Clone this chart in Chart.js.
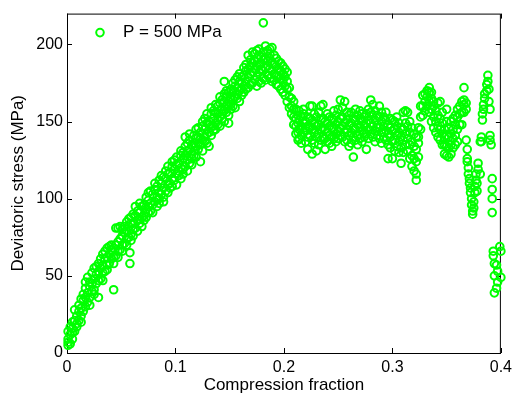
<!DOCTYPE html>
<html>
<head>
<meta charset="utf-8">
<script src="https://cdn.jsdelivr.net/npm/chart.js@4.4.1/dist/chart.umd.min.js"></script>
<style>
  html, body { margin: 0; padding: 0; background: #fff; }
</style>
</head>
<body>
<canvas id="stressChart" width="517" height="396"></canvas>
<script>
// Deviatoric stress vs compression fraction, P = 500 MPa
// values; each fraction has a few stress samples

const riseFraction = [
  0.001, 0.003, 0.005, 0.007, 0.009, 0.011, 0.013, 0.015, 0.017, 0.019,
  0.021, 0.023, 0.025, 0.027, 0.029, 0.031, 0.033, 0.035, 0.037, 0.039,
  0.041, 0.043, 0.045, 0.047, 0.049, 0.051, 0.053, 0.055, 0.057, 0.058, 0.059,
  0.061, 0.063, 0.065, 0.067, 0.069, 0.071, 0.073, 0.075, 0.077, 0.079,
  0.081, 0.083, 0.085, 0.087, 0.089, 0.091, 0.093, 0.095, 0.097, 0.099,
  0.101, 0.103, 0.105, 0.107, 0.109, 0.111, 0.113, 0.115, 0.117, 0.119,
  0.121, 0.123, 0.125, 0.127, 0.129, 0.131, 0.133, 0.135, 0.137, 0.139,
  0.141, 0.143, 0.145, 0.147, 0.149, 0.151, 0.153, 0.155, 0.157, 0.159,
  0.161, 0.163, 0.165
];
const riseStress = [
  [5, 9, 14, 7], [6, 12, 17], [9, 16, 20, 13], [14, 21, 28], [17, 24, 19], [21, 27, 31], [24, 29, 35, 20], [27, 34, 38], [30, 36, 42, 46], [33, 39, 49],
  [36, 43, 46, 31], [40, 45, 52], [41, 48, 55, 38], [45, 51, 56], [47, 53, 36, 58], [48, 55, 61], [52, 57, 64, 47], [53, 61, 66], [57, 62, 68, 54], [58, 64, 69],
  [61, 67, 70], [41, 62, 68, 58], [63, 70, 81], [66, 72, 81, 62], [67, 74, 82], [70, 76, 80, 66], [71, 78, 82], [74, 79, 85, 70], [75, 82, 87], [58, 65], [77, 84, 88, 73],
  [76, 84, 90, 80], [81, 89, 95], [79, 86, 92], [84, 91, 87, 97], [82, 88, 95], [89, 96, 86], [88, 93, 101], [91, 99, 104, 95], [92, 97, 105], [96, 103, 91],
  [98, 106, 110], [95, 101, 108], [100, 104, 112, 97], [103, 110, 115], [101, 107, 114, 98], [105, 113, 118], [104, 109, 116, 121], [110, 117, 107], [108, 113, 121, 124], [112, 119, 125],
  [109, 116, 122, 127], [115, 123, 118], [113, 120, 128, 131], [119, 126, 130, 116], [121, 128, 134, 140], [118, 125, 131, 136], [123, 132, 138, 142], [126, 129, 135, 122], [128, 136, 141, 131], [127, 134, 139, 145],
  [132, 140, 146, 136], [124, 135, 143, 139], [131, 138, 147, 150], [137, 145, 140, 152], [136, 142, 149, 155], [134, 143, 150, 148], [141, 147, 155, 159], [144, 152, 157, 147], [145, 149, 156, 161], [148, 155, 160, 151],
  [147, 153, 162, 166], [152, 158, 164, 155], [150, 157, 163, 176, 168], [156, 160, 166, 170], [149, 154, 163, 169], [158, 165, 171, 161], [160, 164, 170, 175], [159, 166, 173, 177], [165, 172, 168, 179], [163, 170, 176, 181],
  [167, 175, 179, 171], [169, 173, 180, 185], [171, 176, 183, 187]
];

const peakFraction = [
  0.167, 0.169, 0.171, 0.173, 0.175, 0.177, 0.179, 0.181, 0.183, 0.185,
  0.187, 0.189, 0.191, 0.193, 0.195, 0.197, 0.199, 0.201, 0.203, 0.205,
  0.207, 0.209, 0.211, 0.213
];
const peakStress = [
  [172, 179, 184, 193], [174, 181, 186, 190], [175, 182, 188, 195], [177, 184, 189, 194], [173, 179, 186, 191, 196], [176, 182, 187, 193, 197], [175, 184, 188, 192], [178, 183, 190, 195, 214], [177, 185, 191, 199], [180, 186, 189, 196],
  [178, 184, 191, 194, 197], [176, 183, 188, 198], [177, 181, 187, 193], [174, 180, 186, 191], [173, 179, 184, 189], [171, 178, 183, 188], [169, 176, 181, 186], [167, 173, 179, 184], [163, 171, 176, 182], [159, 166, 172],
  [155, 160, 165], [148, 153, 158, 163], [142, 147, 152, 158], [138, 143, 149, 154]
];

const plateauFraction = [
  0.214, 0.216, 0.218, 0.220, 0.222, 0.224, 0.226, 0.228, 0.230, 0.232,
  0.234, 0.236, 0.238, 0.240, 0.242, 0.244, 0.246, 0.248, 0.250, 0.252,
  0.254, 0.256, 0.258, 0.260, 0.262, 0.264, 0.266, 0.268, 0.270, 0.272,
  0.274, 0.276, 0.278, 0.280, 0.282, 0.284, 0.286, 0.288, 0.290, 0.292,
  0.294, 0.296, 0.298, 0.300, 0.302, 0.304, 0.306, 0.308, 0.310, 0.312,
  0.314, 0.316, 0.318, 0.320, 0.322, 0.324
];
const plateauStress = [
  [139, 145, 151, 157], [141, 147, 153, 136], [143, 149, 155, 158], [137, 144, 150, 146], [132, 140, 147, 153], [141, 146, 152, 160], [129, 138, 145, 151, 160], [136, 143, 149, 155], [140, 147, 153, 131], [135, 142, 148, 156],
  [138, 145, 151, 160], [140, 146, 152, 161], [132, 139, 145, 150], [137, 143, 149, 155], [141, 147, 153, 136], [134, 140, 146, 152], [139, 145, 151, 157], [142, 148, 154, 137], [144, 150, 158, 139], [146, 152, 164, 141],
  [140, 147, 153, 159], [143, 149, 163, 137], [138, 145, 151, 156], [134, 141, 148, 154], [136, 143, 149, 156], [127, 140, 146, 152], [138, 145, 151, 158], [141, 148, 154, 135], [139, 146, 152, 157], [137, 144, 150, 155],
  [140, 147, 153, 143], [132, 142, 149, 155], [139, 145, 151, 158], [142, 149, 156, 164], [140, 147, 154, 161], [137, 144, 151, 157], [141, 148, 154, 146], [139, 146, 153, 160], [136, 143, 150, 156], [140, 147, 153, 143],
  [138, 144, 151, 156], [126, 135, 142, 148], [133, 140, 146, 152], [126, 137, 144, 151], [131, 138, 145, 150], [134, 141, 147, 153], [130, 137, 143, 149], [123, 133, 140, 146], [130, 138, 145, 156], [135, 142, 149, 157],
  [131, 139, 147, 156], [126, 135, 143, 150], [121, 128, 137, 146], [118, 126, 134, 142], [112, 116, 124, 132, 140], [127, 136, 140, 146]
];

const tailFraction = [
  0.326, 0.328, 0.330, 0.332, 0.334, 0.336, 0.338, 0.340, 0.342, 0.344,
  0.346, 0.348, 0.350, 0.352, 0.354, 0.356, 0.358, 0.360, 0.362, 0.364,
  0.366, 0.368, 0.369, 0.370, 0.371, 0.372, 0.373, 0.374, 0.375, 0.376,
  0.377, 0.378, 0.379, 0.381, 0.382, 0.383, 0.384, 0.385, 0.387, 0.388,
  0.389, 0.390, 0.391, 0.392, 0.393, 0.394, 0.396, 0.397, 0.399, 0.400
];
const tailStress = [
  [145, 153, 160], [154, 160, 167], [157, 163, 168], [160, 166, 170], [156, 163, 169, 172], [150, 158, 165, 169], [146, 153, 160, 163], [143, 150, 157], [140, 147, 154, 162], [138, 145, 152, 163],
  [135, 142, 149, 156], [129, 135, 140, 145], [128, 134, 141, 150, 158], [127, 133, 140, 146], [129, 135, 142, 150], [133, 139, 145, 152], [135, 141, 148, 154], [137, 145, 153, 158], [148, 155, 160], [148, 156, 163],
  [156, 161, 164, 172], [138, 158, 162], [132, 126, 124], [120, 116], [113, 110], [107, 104], [100, 96], [92, 90], [98, 94], [104, 108],
  [112, 116], [110, 105], [119, 123], [116, 137], [137, 140], [151, 155], [158, 161], [165, 168], [170, 174], [176, 180],
  [163, 171], [141, 138, 158], [135], [113, 106, 100, 91], [66, 63], [58, 50, 39], [42, 57], [53, 46], [69], [66, 49]
];

const xTicks = [0, 0.1, 0.2, 0.3, 0.4];
const yTicks = [0, 50, 100, 150, 200];
const legendLabel = 'P = 500 MPa';
const markerColor = '#00ff00';
const fontFamily = '"Liberation Sans", Arial, Helvetica, sans-serif';

function collect(fractions, stresses, out) {
  fractions.forEach((f, i) => {
    stresses[i].forEach(s => out.push({ x: f, y: s }));
  });
}
const points = [];
collect(riseFraction, riseStress, points);
collect(peakFraction, peakStress, points);
collect(plateauFraction, plateauStress, points);
collect(tailFraction, tailStress, points);

// MATLAB style box with inward ticks on all four sides
const boxPlugin = {
  id: 'box',
  beforeDatasetsDraw(chart) {
    const { ctx, chartArea: a, scales: { x, y } } = chart;
    ctx.save();
    ctx.strokeStyle = '#000';
    ctx.lineWidth = 1;
    ctx.strokeRect(a.left + 0.5, a.top + 0.5, a.right - a.left - 1, a.bottom - a.top);
    ctx.beginPath();
    xTicks.forEach(v => {
      const px = Math.round(x.getPixelForValue(v)) + 0.5;
      ctx.moveTo(px, a.bottom); ctx.lineTo(px, a.bottom - 5);
      ctx.moveTo(px, a.top); ctx.lineTo(px, a.top + 5);
    });
    yTicks.forEach(v => {
      const py = Math.round(y.getPixelForValue(v)) + 0.5;
      ctx.moveTo(a.left, py); ctx.lineTo(a.left + 5, py);
      ctx.moveTo(a.right, py); ctx.lineTo(a.right - 5, py);
    });
    ctx.stroke();
    ctx.restore();
  },
  afterDraw(chart) {
    const { ctx, chartArea: a } = chart;
    ctx.save();
    ctx.strokeStyle = markerColor;
    ctx.lineWidth = 2;
    ctx.beginPath();
    ctx.arc(a.left + 33, a.top + 19, 3.8, 0, Math.PI * 2);
    ctx.stroke();
    ctx.fillStyle = '#000';
    ctx.font = '17px ' + fontFamily;
    ctx.textBaseline = 'middle';
    ctx.fillText(legendLabel, a.left + 56, a.top + 19);
    ctx.restore();
  }
};

new Chart(document.getElementById('stressChart'), {
  type: 'scatter',
  data: {
    datasets: [{
      label: legendLabel,
      data: points,
      pointStyle: 'circle',
      pointRadius: 3.8,
      pointHoverRadius: 3.8,
      pointBorderWidth: 2,
      borderColor: markerColor,
      backgroundColor: 'rgba(0,0,0,0)',
      clip: false
    }]
  },
  options: {
    responsive: false,
    animation: false,
    devicePixelRatio: 1,
    layout: { padding: { top: 11, right: 16, bottom: 0, left: 0 } },
    plugins: {
      legend: { display: false },
      tooltip: { enabled: false }
    },
    scales: {
      x: {
        type: 'linear',
        min: 0,
        max: 0.4,
        afterBuildTicks: (s) => { s.ticks = xTicks.map(v => ({ value: v })); },
        afterFit: (s) => { s.height = 43; },
        grid: { display: false, drawTicks: false },
        border: { display: false },
        ticks: {
          padding: 5,
          maxRotation: 0,
          color: '#000',
          font: { family: fontFamily, size: 16 },
          callback: (v) => String(v)
        },
        title: {
          display: true,
          text: 'Compression fraction',
          color: '#000',
          font: { family: fontFamily, size: 17 },
          padding: { top: 0, bottom: 0 }
        }
      },
      y: {
        type: 'linear',
        min: 0,
        max: 220,
        afterBuildTicks: (s) => { s.ticks = yTicks.map(v => ({ value: v })); },
        afterFit: (s) => { s.width = 67; },
        grid: { display: false, drawTicks: false },
        border: { display: false },
        ticks: {
          padding: 4,
          color: '#000',
          font: { family: fontFamily, size: 16 },
          callback: (v) => String(v)
        },
        title: {
          display: true,
          text: 'Deviatoric stress (MPa)',
          color: '#000',
          font: { family: fontFamily, size: 17 },
          padding: { top: 8, bottom: 0 }
        }
      }
    }
  },
  plugins: [boxPlugin]
});
</script>
</body>
</html>
